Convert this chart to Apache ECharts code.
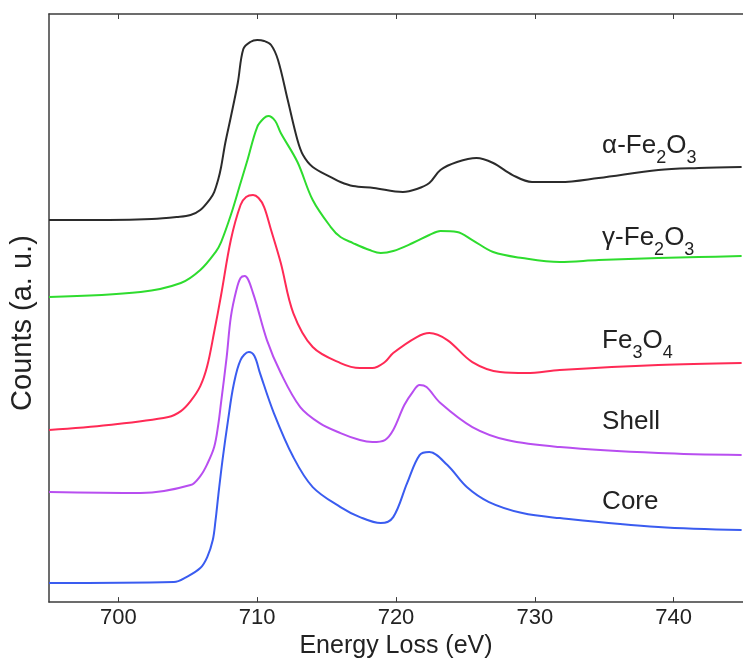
<!DOCTYPE html>
<html>
<head>
<meta charset="utf-8">
<title>Fe L-edge EELS</title>
<script src="https://cdn.jsdelivr.net/npm/echarts@6/dist/echarts.min.js"></script>
<style>
    html, body { margin: 0; padding: 0; background: #fff; }
    #chart { width: 743px; height: 664px; }
</style>
</head>
<body>
<div id="chart"></div>
<script>
/* 数据: [能量损失 eV, 计数 a.u.] */
const alphaFe2O3 = [
    [695.0, 382], [699.3, 382], [702.4, 383], [704.2, 385], [705.2, 387], [705.9, 392],
    [706.6, 403], [706.9, 410], [707.2, 423], [707.4, 435], [707.7, 459], [708.1, 485],
    [708.6, 519], [709.0, 553], [709.5, 560], [710.0, 562], [710.5, 561], [711.0, 557],
    [711.5, 542], [712.2, 502], [712.9, 462], [713.3, 447], [714.0, 435], [715.3, 425],
    [716.0, 420], [716.9, 416], [718.4, 414], [720.5, 410], [721.5, 413], [722.4, 419],
    [723.2, 432], [724.4, 440], [725.8, 444], [727.0, 439], [728.4, 427], [729.8, 420],
    [731.8, 420], [734.6, 424], [738.9, 432], [741.8, 434], [744.9, 435]
];
const gammaFe2O3 = [
    [695.0, 305], [701.6, 310], [704.5, 319], [705.9, 332], [707.0, 350], [707.4, 360],
    [708.1, 387], [708.8, 419], [709.3, 442], [710.0, 475], [710.5, 484], [710.8, 486],
    [711.3, 481], [711.7, 469], [712.9, 440], [714.0, 402], [715.3, 375], [716.0, 365],
    [716.9, 359], [718.1, 352], [718.9, 349], [719.8, 351], [721.2, 359], [722.4, 367],
    [723.2, 371], [724.4, 370], [725.5, 362], [727.0, 350], [729.1, 344], [731.8, 340],
    [734.6, 342], [738.9, 344], [741.8, 345], [744.9, 346]
];
const fe3O4 = [
    [695.0, 172], [699.3, 177], [703.6, 185], [704.5, 191], [705.2, 201], [705.9, 216],
    [706.4, 236], [706.9, 270], [707.4, 307], [708.1, 362], [708.8, 397], [709.2, 405],
    [709.7, 407], [710.1, 404], [710.5, 395], [711.0, 372], [711.7, 339], [712.6, 289],
    [714.0, 255], [716.0, 239], [717.4, 234], [718.3, 234], [719.2, 240], [719.8, 249],
    [721.5, 265], [722.4, 269], [723.7, 262], [725.5, 240], [727.5, 230], [729.4, 229],
    [731.8, 232], [738.9, 237], [744.9, 239]
];
const shell = [
    [695.0, 110], [701.6, 109], [705.2, 117], [705.9, 126], [706.4, 138], [706.9, 155],
    [707.2, 178], [707.4, 200], [707.8, 245], [708.1, 285], [708.5, 312], [708.8, 324],
    [709.1, 326], [709.7, 309], [710.7, 262], [711.7, 229], [713.1, 195], [714.5, 179],
    [716.0, 169], [717.4, 162], [718.3, 160], [719.2, 162], [719.8, 172], [720.6, 197],
    [721.2, 210], [721.7, 217], [722.2, 215], [723.2, 199], [725.5, 175], [728.0, 162],
    [731.8, 155], [738.9, 149], [744.9, 147]
];
const core = [
    [695.0, 19], [704.0, 20], [704.9, 25], [705.9, 34], [706.4, 45], [706.8, 62],
    [707.0, 82], [707.2, 107], [707.5, 142], [707.9, 182], [708.3, 217], [708.8, 242],
    [709.4, 250], [709.8, 246], [710.2, 229], [711.2, 189], [712.6, 145], [714.0, 115],
    [716.0, 95], [717.4, 85], [718.9, 79], [719.8, 85], [720.8, 119], [721.7, 147],
    [722.4, 150], [723.7, 137], [725.1, 115], [726.7, 100], [729.1, 89], [731.8, 84],
    [738.9, 75], [744.9, 72]
];
const tickValues = [700, 710, 720, 730, 740];
/* 曲线标签 (rich 文本) 及其位置 [eV, a.u.] */
const labelTexts = [
    '{n|α-Fe}{s|2}{n|O}{s|3}',
    '{n|γ-Fe}{s|2}{n|O}{s|3}',
    '{n|Fe}{s|3}{n|O}{s|4}',
    '{n|Shell}',
    '{n|Core}'
];
const labelCoords = [[734.85, 452], [734.85, 360], [734.85, 257], [734.85, 180], [734.85, 100]];
const seriesData = [alphaFe2O3, gammaFe2O3, fe3O4, shell, core];
const seriesNames = ['α-Fe2O3', 'γ-Fe2O3', 'Fe3O4', 'Shell', 'Core'];
const seriesColors = ['#2b2b2b', '#2edc2e', '#ff2a55', '#b84ef0', '#3a5cf0'];

const axisColor = '#3c3c3c';
const fontFamily = 'Liberation Sans, Arial, sans-serif';

const myChart = echarts.init(document.getElementById('chart'), null, { renderer: 'canvas' });

const series = seriesData.map((data, index) => ({
    name: seriesNames[index],
    type: 'line',
    data: data,
    smooth: 0.35,
    showSymbol: false,
    silent: true,
    lineStyle: { color: seriesColors[index], width: 2 },
    markPoint: {
        symbol: 'circle',
        symbolSize: 0,
        silent: true,
        data: [{ coord: labelCoords[index] }],
        label: {
            show: true,
            position: 'right',
            distance: 0,
            formatter: labelTexts[index],
            rich: {
                /* 主文字顶对齐, 下标底对齐并加高行高 -> 下标下沉 */
                n: { fontSize: 26, lineHeight: 26, color: '#222', fontFamily: fontFamily, verticalAlign: 'top' },
                s: { fontSize: 18, lineHeight: 34, color: '#222', fontFamily: fontFamily, verticalAlign: 'bottom' }
            }
        }
    }
}));

const option = {
    animation: false,
    backgroundColor: '#fff',
    grid: { left: 47.5, right: -2, top: 14, bottom: 61.5 },
    xAxis: [{
        type: 'value',
        min: 695,
        max: 745,
        name: 'Energy Loss (eV)',
        nameLocation: 'middle',
        nameGap: 31,
        nameTextStyle: { fontSize: 25, color: '#222', fontFamily: fontFamily },
        axisLine: { show: true, lineStyle: { color: axisColor, width: 1.5 } },
        axisTick: { show: true, inside: true, length: 5, customValues: tickValues, lineStyle: { color: axisColor } },
        axisLabel: { fontSize: 22, color: '#222', margin: 5, fontFamily: fontFamily, customValues: tickValues },
        splitLine: { show: false }
    }, {
        type: 'value',
        position: 'top',
        min: 695,
        max: 745,
        axisLine: { show: true, onZero: false, lineStyle: { color: axisColor, width: 1.5 } },
        axisTick: { show: true, inside: true, length: 5, customValues: tickValues, lineStyle: { color: axisColor } },
        axisLabel: { show: false },
        splitLine: { show: false }
    }],
    yAxis: {
        type: 'value',
        min: 0,
        max: 588,
        name: 'Counts (a. u.)',
        nameLocation: 'middle',
        nameGap: 12,
        nameTextStyle: { fontSize: 29, color: '#222', fontFamily: fontFamily, padding: [0, 30, 0, 0] },
        axisLine: { show: true, lineStyle: { color: axisColor, width: 1.5 } },
        axisTick: { show: false },
        axisLabel: { show: false },
        splitLine: { show: false }
    },
    series: series
};

myChart.setOption(option);
</script>
</body>
</html>
